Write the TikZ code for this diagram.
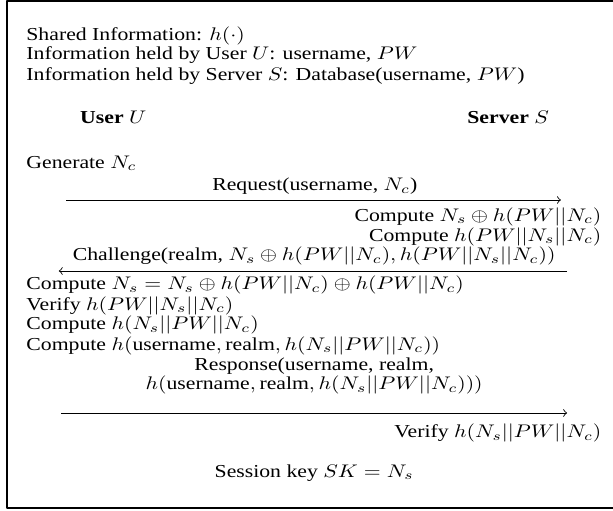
\documentclass[tikz,border=0pt]{standalone}
\usepackage{fontspec}
\setmainfont{Liberation Serif}
\begin{document}
\begin{tikzpicture}[font=\fontsize{10}{9}\selectfont,line join=round,>=to]
	\tikzset{
		txt/.style={inner sep=0pt,yscale=0.84,anchor=base west},
		rtxt/.style={inner sep=0pt,yscale=0.84,anchor=base east},
		ctxt/.style={inner sep=0pt,yscale=0.84,anchor=base},
		msg/.style={->,line width=0.4pt}
	}
	\clip (0,0) rectangle (9.912,-8.247);
	\draw[line width=0.5pt] (0.113,-0.016) rectangle (10.5,-8.214);
	% header
	\node[txt] (shared) at (0.42,-0.647) {Shared Information: $h(\cdot)$};
	\node[txt] (infou) at (0.42,-0.970) {Information held by User $U$: username, $PW$};
	\node[txt] (infos) at (0.42,-1.294) {Information held by Server $S$: Database(username, $PW$)};
	\node[txt] (user) at (1.29,-2.005) {\textbf{User} $U$};
	\node[txt] (server) at (7.55,-2.005) {\textbf{Server} $S$};
	% first round
	\node[txt] (gen) at (0.42,-2.717) {Generate $N_c$};
	\node[ctxt] (req) at (5.09,-3.088) {Request(username, $N_c$)};
	\coordinate (u1) at (1.07,-3.234);
	\coordinate (s1) at (9.07,-3.234);
	\draw[msg] (u1)--(s1);
	\node[rtxt] (xor) at (9.73,-3.574) {Compute $N_s\oplus h(PW||N_c)$};
	\node[rtxt] (hs) at (9.73,-3.897) {Compute $h(PW||N_s||N_c)$};
	\node[ctxt] (chal) at (5.08,-4.220) {Challenge(realm, $N_s\oplus h(PW||N_c), h(PW||N_s||N_c))$};
	\coordinate (s2) at (9.17,-4.382);
	\coordinate (u2) at (0.95,-4.382);
	\draw[msg] (s2)--(u2);
	% second round
	\node[txt] (getns) at (0.42,-4.689) {Compute $N_s=N_s\oplus h(PW||N_c)\oplus h(PW||N_c)$};
	\node[txt] (vfy) at (0.42,-5.013) {Verify $h(PW||N_s||N_c)$};
	\node[txt] (hu) at (0.42,-5.336) {Compute $h(N_s||PW||N_c)$};
	\node[txt] (hresp) at (0.42,-5.660) {Compute $h(\mathrm{username},\mathrm{realm},h(N_s||PW||N_c))$};
	\node[ctxt] (resp) at (5.08,-5.983) {Response(username, realm,};
	\node[ctxt] (resp2) at (5.08,-6.306) {$h(\mathrm{username},\mathrm{realm},h(N_s||PW||N_c)))$};
	\coordinate (u3) at (0.99,-6.678);
	\coordinate (s3) at (9.17,-6.678);
	\draw[msg] (u3)--(s3);
	\node[rtxt] (vfys) at (9.73,-7.082) {Verify $h(N_s||PW||N_c)$};
	\node[ctxt] (key) at (5.08,-7.713) {Session key $SK=N_s$};
\end{tikzpicture}
\end{document}
